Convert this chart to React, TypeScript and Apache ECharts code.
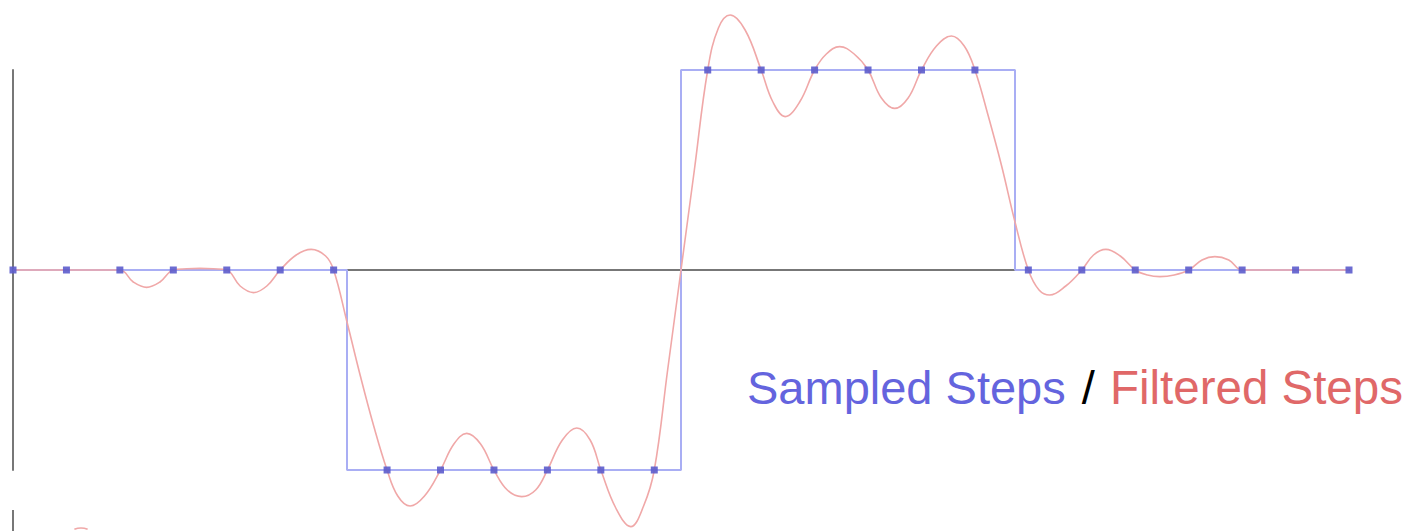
import React, { useEffect, useRef } from "react";
import * as echarts from "echarts";

// Sample index positions and sampled step values
const sampleT = [0, 1, 2, 3, 4, 5, 6, 7, 8, 9, 10, 11, 12, 13, 14, 15, 16, 17, 18, 19, 20, 21, 22, 23, 24, 25];
const sampleV = [0, 0, 0, 0, 0, 0, 0, -1, -1, -1, -1, -1, -1, 1, 1, 1, 1, 1, 1, 0, 0, 0, 0, 0, 0, 0];

// Underlying step outline
const stepT = [0, 6.25, 6.25, 12.5, 12.5, 18.75, 18.75, 25];
const stepV = [0, 0, -1, -1, 1, 1, 0, 0];

// Filtered (band-limited) curve
const filteredT = [
  0, 1, 2, 2.25, 2.5, 2.75, 3, 3.25, 3.5, 3.75, 4, 4.25, 4.5, 4.75, 5, 5.3, 5.58, 5.85, 6, 6.25, 6.5, 6.75, 7,
  7.2, 7.43, 7.7, 8, 8.25, 8.49, 8.75, 9, 9.25, 9.52, 9.78, 10, 10.28, 10.55, 10.8, 11, 11.28, 11.56, 11.8, 12,
  12.25, 12.5, 12.75, 13, 13.2, 13.42, 13.7, 14, 14.22, 14.45, 14.72, 15, 15.22, 15.47, 15.74, 16, 16.25, 16.5,
  16.75, 17, 17.28, 17.56, 17.8, 18, 18.25, 18.5, 18.75, 19, 19.2, 19.4, 19.7, 20, 20.22, 20.45, 20.72, 21, 21.23,
  21.46, 21.73, 22, 22.25, 22.49, 22.75, 23, 24, 25,
];
const filteredV = [
  0, 0, 0, -0.06, -0.087, -0.06, 0, 0.006, 0.008, 0.006, 0, -0.08, -0.113, -0.08, 0, 0.075, 0.103, 0.07, 0, -0.26,
  -0.53, -0.78, -1, -1.13, -1.18, -1.13, -1, -0.87, -0.817, -0.87, -1, -1.1, -1.133, -1.1, -1, -0.85, -0.79, -0.85,
  -1, -1.19, -1.283, -1.18, -1, -0.5, 0, 0.5, 1, 1.21, 1.275, 1.2, 1, 0.84, 0.767, 0.84, 1, 1.08, 1.117, 1.08, 1,
  0.86, 0.808, 0.86, 1, 1.12, 1.17, 1.12, 1, 0.77, 0.52, 0.24, 0, -0.1, -0.125, -0.08, 0, 0.075, 0.103, 0.07, 0,
  -0.025, -0.033, -0.025, 0, 0.05, 0.067, 0.05, 0, 0, 0,
];

const labelSampled = "Sampled Steps";
const labelSep = " / ";
const labelFiltered = "Filtered Steps";

export default function App() {
  const ref = useRef<HTMLDivElement>(null);

  useEffect(() => {
    if (!ref.current) return;
    const chart = echarts.init(ref.current, undefined, { renderer: "svg" });
    const zip = (a: number[], b: number[]) => a.map((v, i) => [v, b[i]]);
    chart.setOption({
      animation: false,
      backgroundColor: "#ffffff",
      grid: { left: 13, right: 65, top: 70, bottom: 61 },
      xAxis: {
        type: "value",
        min: 0,
        max: 25,
        axisLine: { show: true, onZero: true, lineStyle: { color: "#777777", width: 2 } },
        axisTick: { show: false },
        axisLabel: { show: false },
        splitLine: { show: false },
      },
      yAxis: {
        type: "value",
        min: -1,
        max: 1,
        axisLine: { show: true, onZero: false, lineStyle: { color: "#777777", width: 2 } },
        axisTick: { show: false },
        axisLabel: { show: false },
        splitLine: { show: false },
      },
      series: [
        {
          type: "line",
          data: zip(stepT, stepV),
          showSymbol: false,
          symbol: "none",
          lineStyle: { color: "#a9aef4", width: 2 },
          z: 2,
          clip: false,
        },
        {
          type: "line",
          data: zip(filteredT, filteredV),
          smooth: 0.4,
          showSymbol: false,
          symbol: "none",
          lineStyle: { color: "#f0a8a8", width: 1.6 },
          z: 3,
          clip: false,
        },
        {
          type: "scatter",
          data: zip(sampleT, sampleV),
          symbol: "rect",
          symbolSize: 7,
          itemStyle: { color: "#5c5ccc", opacity: 0.9 },
          z: 4,
          clip: false,
        },
      ],
      graphic: [
        {
          type: "line",
          shape: { x1: 13, y1: 510, x2: 13, y2: 531 },
          style: { stroke: "#777777", lineWidth: 2 },
        },
        {
          type: "arc",
          shape: { cx: 81, cy: 545, r: 17, startAngle: -Math.PI / 2 - 0.4, endAngle: -Math.PI / 2 + 0.4 },
          style: { stroke: "#f0a8a8", lineWidth: 1.6, fill: "none" },
        },
        {
          type: "text",
          x: 747,
          y: 387,
          style: {
            text: `{a|${labelSampled}}{b|${labelSep}}{c|${labelFiltered}}`,
            align: "left",
            verticalAlign: "middle",
            rich: {
              a: { fontFamily: "Liberation Sans", fontSize: 47, fill: "#6464de" },
              b: { fontFamily: "Liberation Sans", fontSize: 47, fill: "#000000", padding: [0, 2, 0, 3] },
              c: { fontFamily: "Liberation Sans", fontSize: 47.5, fill: "#e06868" },
            },
          },
        },
      ],
    });
    return () => chart.dispose();
  }, []);

  return (
    <div
      ref={ref}
      style={{ position: "fixed", left: 0, top: 0, width: 1414, height: 531, background: "#fff" }}
    />
  );
}
